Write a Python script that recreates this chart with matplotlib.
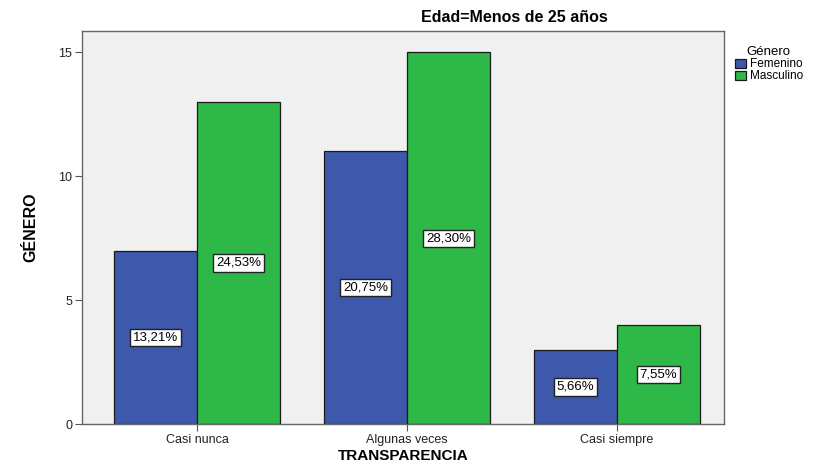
import matplotlib
matplotlib.use('Agg')
import matplotlib.pyplot as plt
import numpy as np

# Datos por categoría de transparencia
categorias = ['Casi nunca', 'Algunas veces', 'Casi siempre']
femenino = [7, 11, 3]
masculino = [13, 15, 4]
pct_femenino = ['13,21%', '20,75%', '5,66%']
pct_masculino = ['24,53%', '28,30%', '7,55%']

AZUL = '#3E58AC'
VERDE = '#2EB848'

plt.rcParams['font.family'] = ['Liberation Sans', 'DejaVu Sans']

fig = plt.figure(figsize=(8.33, 4.66), dpi=100)
ax = fig.add_axes([0.0984, 0.090, 0.771, 0.843])
ax.set_facecolor('#F0F0F0')

x = np.arange(len(categorias))
w = 0.395
b1 = ax.bar(x - w / 2, femenino, w, color=AZUL, edgecolor='#1a1a1a', linewidth=0.9, label='Femenino')
b2 = ax.bar(x + w / 2, masculino, w, color=VERDE, edgecolor='#1a1a1a', linewidth=0.9, label='Masculino')

caja = dict(boxstyle='square,pad=0.2', facecolor='white', edgecolor='#222222', linewidth=1)
for bars, etiquetas in ((b1, pct_femenino), (b2, pct_masculino)):
    for bar, txt in zip(bars, etiquetas):
        ax.text(bar.get_x() + bar.get_width() / 2, bar.get_height() / 2, txt,
                ha='center', va='center', fontsize=9.5, bbox=caja)

ax.set_xlim(-0.548, 2.51)
ax.set_ylim(0, 15.85)
ax.set_yticks([0, 5, 10, 15])
ax.set_xticks(x)
ax.set_xticklabels(categorias)
ax.tick_params(axis='both', labelsize=9, length=5, pad=2, color='#555555', labelcolor='#222222')
for s in ax.spines.values():
    s.set_color('#666666')
    s.set_linewidth(1)

ax.set_xlabel('TRANSPARENCIA', fontsize=11, fontweight='bold', labelpad=2)
ax.set_ylabel('GÉNERO', fontsize=11.5, fontweight='bold', fontstretch='condensed',
              family=['Liberation Sans Narrow', 'Liberation Sans'], labelpad=14)

fig.text(0.618, 0.962, 'Edad=Menos de 25 años', ha='center', va='center',
         fontsize=11.5, fontweight='bold')

leg = ax.legend(title='Género', loc='upper left', bbox_to_anchor=(1.005, 0.98),
                frameon=False, fontsize=8.5, title_fontsize=9.5,
                handlelength=1.0, handleheight=0.8, handletextpad=0.3,
                labelspacing=0.0, borderaxespad=0.2)

fig.savefig('out.png', dpi=100)
